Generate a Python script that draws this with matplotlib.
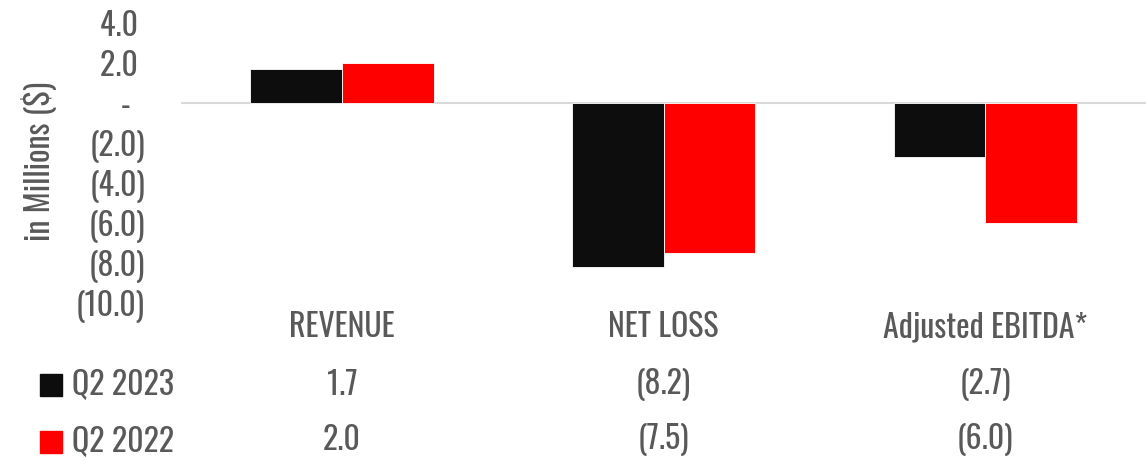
import matplotlib
matplotlib.use("Agg")
import matplotlib.pyplot as plt
from matplotlib.patches import Rectangle
from matplotlib.ticker import FuncFormatter
import numpy as np

plt.rcParams['font.family'] = ['Oswald', 'Barlow Condensed', 'DejaVu Sans']
plt.rcParams['font.weight'] = 'light'

categories = ["REVENUE", "NET LOSS", "Adjusted EBITDA*"]
series_names = ["Q2 2023", "Q2 2022"]
q2_2023 = [1.7, -8.2, -2.7]
q2_2022 = [2.0, -7.5, -6.0]
colors = ["#0d0d0d", "#ff0000"]
text_color = "#595959"


def fmt(v):
    if abs(v) < 1e-9:
        return "-"
    if v < 0:
        return "({:.1f})".format(-v)
    return "{:.1f}".format(v)


fig = plt.figure(figsize=(11.46, 4.61), dpi=100)
ax = fig.add_axes([0.158, 0.343, 0.842, 0.607])

x = np.arange(len(categories))
w = 0.285
ax.bar(x - w / 2, q2_2023, w, color=colors[0], edgecolor="white", linewidth=0.6, zorder=3)
ax.bar(x + w / 2, q2_2022, w, color=colors[1], edgecolor="white", linewidth=0.6, zorder=3)
ax.axhline(0, color="#d9d9d9", linewidth=1.5, zorder=2)

ax.set_xlim(-0.5, len(categories) - 0.5)
ax.set_ylim(-10, 4)
ax.set_yticks(np.arange(-10, 5, 2))


def tick_fmt(v, pos):
    s = fmt(v)
    if v > 0:
        return s + " "
    if abs(v) < 1e-9:
        return s + "  "
    return s


ax.yaxis.set_major_formatter(FuncFormatter(tick_fmt))
ax.tick_params(axis="y", length=0, pad=26, labelsize=23, labelcolor=text_color)
ax.set_xticks([])
for s in ax.spines.values():
    s.set_visible(False)

fig.text(0.034, 0.651, "in Millions ($)", rotation=90, ha="center", va="center",
         fontsize=23, color=text_color)

# data table under the chart
row_y = [-0.086, -0.293, -0.489]
for i, cat in enumerate(categories):
    ax.text(x[i], row_y[0], cat, ha="center", va="center", fontsize=23,
            color=text_color, transform=ax.get_xaxis_transform(), clip_on=False)
    ax.text(x[i], row_y[1], fmt(q2_2023[i]), ha="center", va="center", fontsize=23,
            color=text_color, transform=ax.get_xaxis_transform(), clip_on=False)
    ax.text(x[i], row_y[2], fmt(q2_2022[i]), ha="center", va="center", fontsize=23,
            color=text_color, transform=ax.get_xaxis_transform(), clip_on=False)

fig_rows = [1 - 385 / 461, 1 - 442 / 461]
for j, name in enumerate(series_names):
    fig.patches.append(Rectangle((40 / 1146, fig_rows[j] - 11 / 461), 22 / 1146, 22 / 461,
                                 color=colors[j], transform=fig.transFigure, figure=fig))
    fig.text(72 / 1146, fig_rows[j], name, ha="left", va="center", fontsize=23,
             color=text_color)

fig.savefig("out.png", dpi=100)
